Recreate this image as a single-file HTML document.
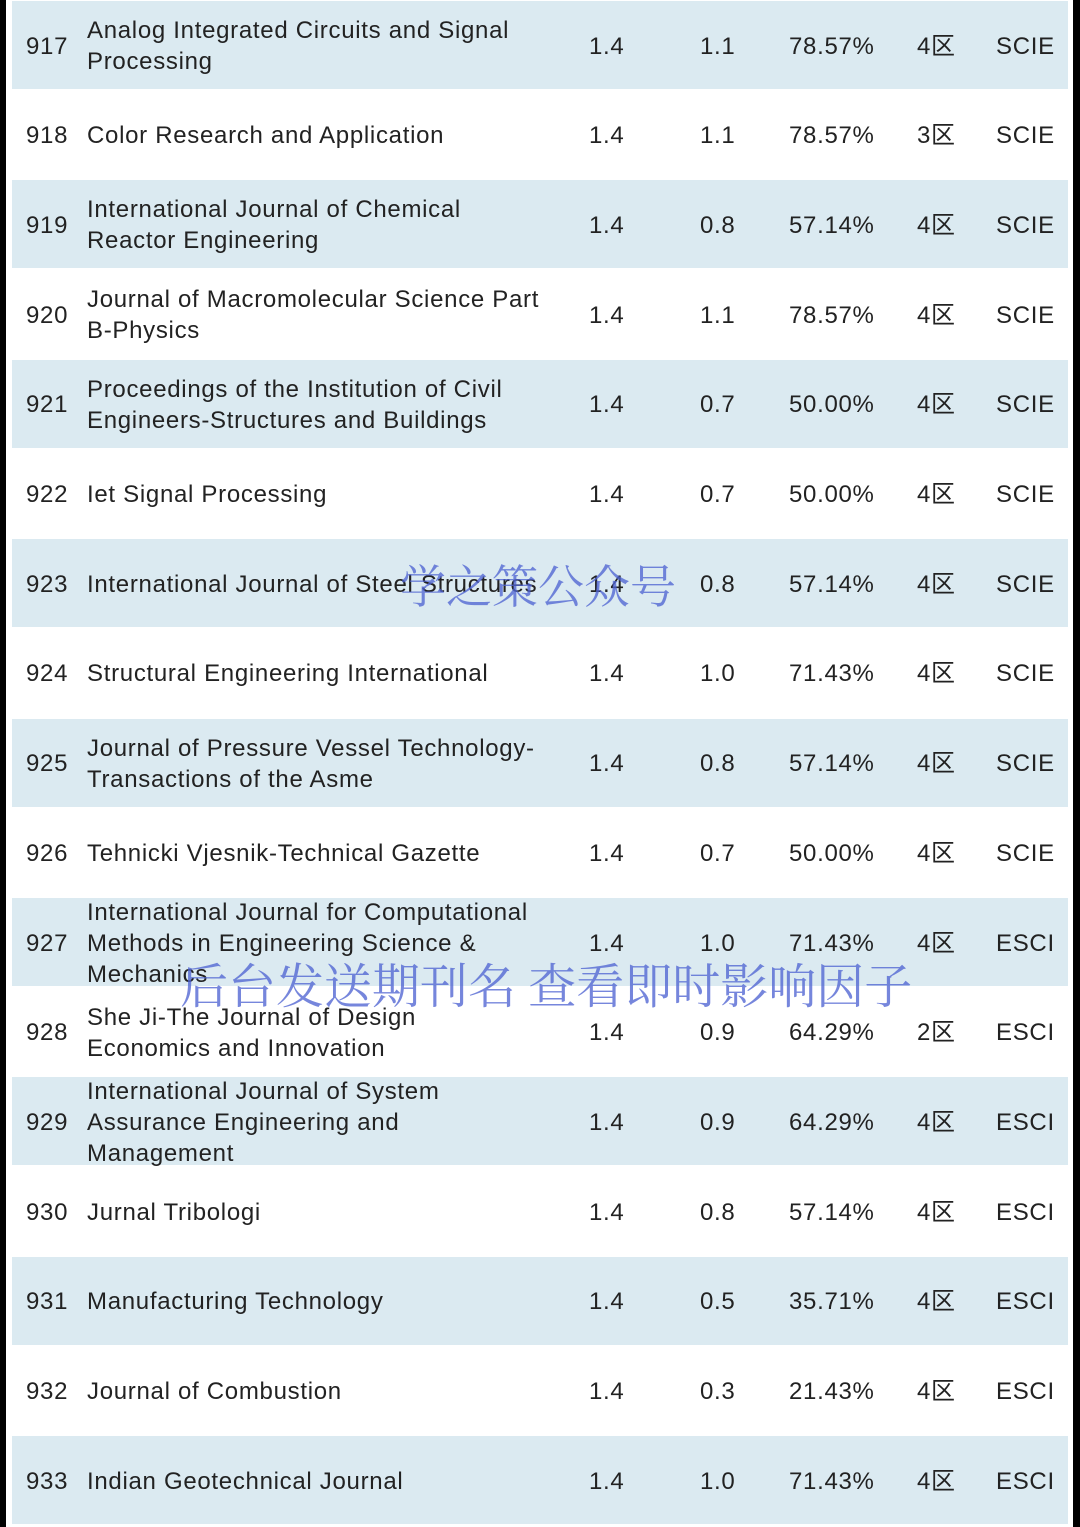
<!DOCTYPE html>
<html><head><meta charset="utf-8"><style>
body{margin:0;width:1080px;height:1527px;background:#fff;position:relative;overflow:hidden;font-family:"Liberation Sans","Noto Sans CJK SC",sans-serif;color:#222}
.edge{position:absolute;top:0;height:1527px;background:#000}
.row{position:absolute;left:12px;width:1056px;height:88px}
.c{position:absolute;font-size:24px;line-height:31px;white-space:nowrap;letter-spacing:0.7px}
.wm{position:absolute;font-family:"Noto Serif CJK SC","Liberation Serif",serif;font-size:46px;color:rgba(80,100,210,0.78);white-space:nowrap;line-height:1}
</style></head><body>
<div class="edge" style="left:0;width:6px"></div>
<div class="edge" style="left:1073px;width:7px"></div>
<div id="tbl"></div>
<div class="wm" style="left:400px;top:561px">学之策公众号</div>
<div class="wm" style="left:180px;top:959px;font-size:48px">后台发送期刊名 查看即时影响因子</div>
<script>
const ranks=[917,918,919,920,921,922,923,924,925,926,927,928,929,930,931,932,933];
const names=[["Analog Integrated Circuits and Signal","Processing"],["Color Research and Application"],["International Journal of Chemical","Reactor Engineering"],["Journal of Macromolecular Science Part","B-Physics"],["Proceedings of the Institution of Civil","Engineers-Structures and Buildings"],["Iet Signal Processing"],["International Journal of Steel Structures"],["Structural Engineering International"],["Journal of Pressure Vessel Technology-","Transactions of the Asme"],["Tehnicki Vjesnik-Technical Gazette"],["International Journal for Computational","Methods in Engineering Science &","Mechanics"],["She Ji-The Journal of Design","Economics and Innovation"],["International Journal of System","Assurance Engineering and","Management"],["Jurnal Tribologi"],["Manufacturing Technology"],["Journal of Combustion"],["Indian Geotechnical Journal"]];
const ifs=["1.4","1.4","1.4","1.4","1.4","1.4","1.4","1.4","1.4","1.4","1.4","1.4","1.4","1.4","1.4","1.4","1.4"];
const v2=["1.1","1.1","0.8","1.1","0.7","0.7","0.8","1.0","0.8","0.7","1.0","0.9","0.9","0.8","0.5","0.3","1.0"];
const pct=["78.57%","78.57%","57.14%","78.57%","50.00%","50.00%","57.14%","71.43%","57.14%","50.00%","71.43%","64.29%","64.29%","57.14%","35.71%","21.43%","71.43%"];
const zone=["4区","3区","4区","4区","4区","4区","4区","4区","4区","4区","4区","2区","4区","4区","4区","4区","4区"];
const idx=["SCIE","SCIE","SCIE","SCIE","SCIE","SCIE","SCIE","SCIE","SCIE","SCIE","ESCI","ESCI","ESCI","ESCI","ESCI","ESCI","ESCI"];
const tbl=document.getElementById('tbl');
const RH=89.7;
function cell(row,x,cy,lines,name){
  const d=document.createElement('div');d.className='c';
  
  
  d.style.left=x+'px';d.style.top=(cy-lines.length*31/2)+'px';
  d.innerHTML=lines.join('<br>');row.appendChild(d);
}
ranks.forEach((r,i)=>{
  const top=i*RH;
  const row=document.createElement('div');row.className='row';
  
  
  row.style.top=(top+1)+'px';
  row.style.background=i%2==0?'#dbeaf1':'#fff';
  tbl.appendChild(row);
  const cy=45;
  cell(row,14,cy,[String(r)],'rank');
  cell(row,75,cy,names[i],'journal-name');
  cell(row,577,cy,[ifs[i]],'impact-factor');
  cell(row,688,cy,[v2[i]],'value');
  cell(row,777,cy,[pct[i]],'percentile');
  cell(row,905,cy,[zone[i]],'zone');
  cell(row,984,cy,[idx[i]],'index');
});
</script>
</body></html>
